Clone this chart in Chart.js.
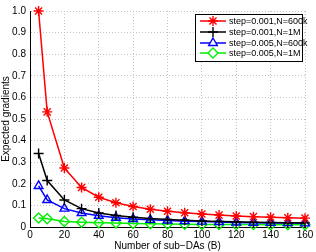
<!DOCTYPE html>
<html>
<head>
<meta charset="utf-8">
<script src="https://cdn.jsdelivr.net/npm/chart.js@4/dist/chart.umd.min.js"></script>
<style>
    html, body { margin: 0; padding: 0; background: #fff; }
    #wrap { width: 316px; height: 252px; }
</style>
</head>
<body>
<div id="wrap"><canvas id="gradChart" width="316" height="252"></canvas></div>
<script>
// sub-DA counts (x) and expected gradients per setting
const subDAs = [5, 10, 20, 30, 40, 50, 60, 70, 80, 90, 100, 110, 120, 130, 140, 150, 160];
const step001N600k = [1.0, 0.533, 0.273, 0.183, 0.138, 0.112, 0.095, 0.082, 0.073, 0.066, 0.060, 0.055, 0.051, 0.048, 0.045, 0.043, 0.041];
const step001N1M = [0.34, 0.215, 0.125, 0.085, 0.065, 0.053, 0.045, 0.039, 0.035, 0.031, 0.028, 0.026, 0.024, 0.022, 0.021, 0.020, 0.019];
const step005N600k = [0.19, 0.125, 0.085, 0.065, 0.052, 0.043, 0.037, 0.033, 0.030, 0.027, 0.025, 0.023, 0.021, 0.020, 0.019, 0.018, 0.017];
const step005N1M = [0.042, 0.038, 0.025, 0.022, 0.020, 0.018, 0.016, 0.015, 0.014, 0.013, 0.012, 0.012, 0.011, 0.011, 0.010, 0.010, 0.010];
const seriesLabels = ['step=0.001,N=600k', 'step=0.001,N=1M', 'step=0.005,N=600k', 'step=0.005,N=1M'];

const FONT = 'Liberation Sans, Arial, sans-serif';

function toPoints(values) {
    return subDAs.map((x, i) => ({x: x, y: values[i]}));
}

const styles = [
    {color: '#ff0000', point: 'star', radius: 5},
    {color: '#000000', point: 'cross', radius: 5},
    {color: '#0000ff', point: 'triangle', radius: 5},
    {color: '#00ee00', point: 'rectRot', radius: 5},
];

const allSeries = [step001N600k, step001N1M, step005N600k, step005N1M];
const datasets = allSeries.map((values, i) => ({
    label: seriesLabels[i],
    data: toPoints(values),
    borderColor: styles[i].color,
    backgroundColor: 'rgba(0,0,0,0)',
    pointBorderColor: styles[i].color,
    pointBackgroundColor: 'rgba(0,0,0,0)',
    pointStyle: styles[i].point,
    pointRadius: styles[i].radius,
    pointBorderWidth: 1.4,
    borderWidth: 1.5,
    tension: 0,
    clip: false,
}));

// legend drawn inside the plot, top-right like the figure
const insideLegend = {
    id: 'insideLegend',
    afterDraw(chart) {
        const ctx = chart.ctx;
        const x0 = 195, y0 = 14, w = 107, h = 47;
        ctx.save();
        ctx.setLineDash([]);
        ctx.fillStyle = '#fff';
        ctx.fillRect(x0, y0, w, h);
        ctx.strokeStyle = '#000';
        ctx.lineWidth = 1;
        ctx.strokeRect(x0 + 0.5, y0 + 0.5, w, h);
        const rows = [21, 32, 43, 53];
        chart.data.datasets.forEach((ds, i) => {
            const y = rows[i];
            ctx.strokeStyle = ds.borderColor;
            ctx.lineWidth = 1.5;
            ctx.beginPath();
            ctx.moveTo(200, y);
            ctx.lineTo(226, y);
            ctx.stroke();
            ctx.fillStyle = '#fff';
            ctx.lineWidth = 1.4;
            Chart.helpers.drawPoint(ctx, {
                pointStyle: ds.pointStyle,
                radius: ds.pointRadius,
                borderWidth: 1.4,
                rotation: 0
            }, 213, y);
            ctx.fillStyle = '#000';
            ctx.font = '9px ' + FONT;
            ctx.textBaseline = 'middle';
            ctx.fillText(ds.label, 229, y + 0.5);
        });
        ctx.restore();
    }
};

const gradCtx = document.getElementById('gradChart').getContext('2d');
const gradChart = new Chart(gradCtx, {
    type: 'line',
    data: {datasets: datasets},
    options: {
        responsive: false,
        animation: false,
        layout: {padding: {left: 0, right: 11, top: 11, bottom: 0}},
        plugins: {
            legend: {display: false},
            tooltip: {enabled: false},
        },
        scales: {
            x: {
                type: 'linear',
                min: 0,
                max: 160,
                afterFit: (scale) => { scale.height = 25; },
                ticks: {stepSize: 20, color: '#000', font: {family: FONT, size: 10}, padding: 2, maxRotation: 0},
                grid: {color: '#c4c4c4', drawTicks: false, tickLength: 0},
                border: {color: '#000', width: 1, dash: [1, 2]},
                title: {display: true, text: 'Number of sub\u2212DAs (B)', color: '#000', font: {family: FONT, size: 10}, padding: {top: 0, bottom: 0}},
            },
            y: {
                min: 0,
                max: 1,
                afterFit: (scale) => { scale.width = 30; },
                ticks: {stepSize: 0.1, color: '#000', font: {family: FONT, size: 10}, padding: 4},
                grid: {color: '#c4c4c4', drawTicks: false, tickLength: 0},
                border: {color: '#000', width: 1, dash: [1, 2]},
                title: {display: true, text: 'Expected gradients', color: '#000', font: {family: FONT, size: 10}, padding: {top: 0, bottom: 0}},
            },
        },
    },
    plugins: [insideLegend],
});
</script>
</body>
</html>
